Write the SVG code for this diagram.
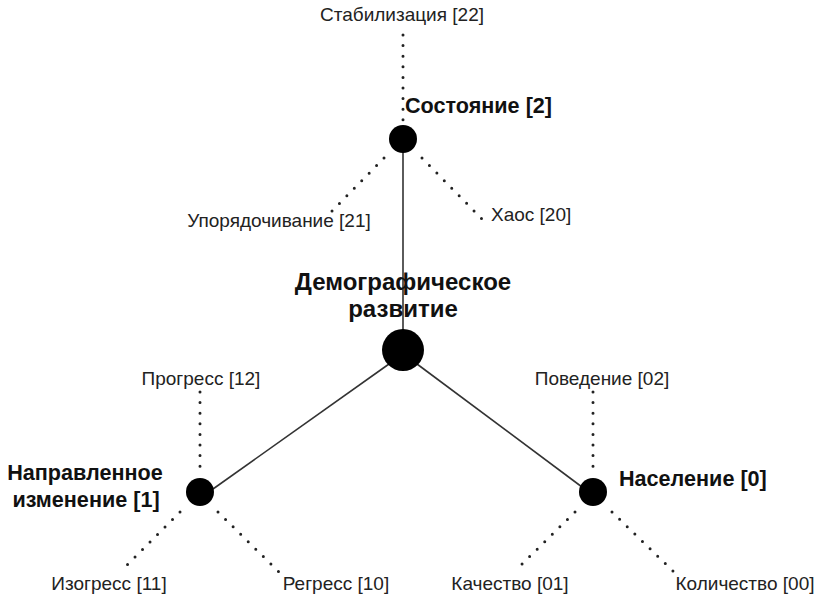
<svg xmlns="http://www.w3.org/2000/svg" width="820" height="607" viewBox="0 0 820 607">
<style>
.bg{fill:#fff}
.solid{stroke:#333;stroke-width:1.6;fill:none}
.dot{stroke:#222;stroke-width:3;stroke-linecap:round;stroke-dasharray:0 10.6;fill:none}
.node{fill:#000}
.lbl{font-family:"Liberation Sans",Arial,sans-serif;font-size:19px;fill:#222}
.b{font-family:"Liberation Sans",Arial,sans-serif;font-weight:bold;font-size:21.6px;fill:#111}
.bm{font-family:"Liberation Sans",Arial,sans-serif;font-weight:bold;font-size:24px;fill:#111}
</style>
<rect class="bg" x="0" y="0" width="820" height="607"/>
<g id="connectors">
<line class="solid" x1="403" y1="150" x2="403" y2="332"/>
<line class="solid" x1="389" y1="364" x2="213" y2="489"/>
<line class="solid" x1="417" y1="364" x2="582" y2="487"/>
<line class="dot" x1="403" y1="35" x2="403" y2="120"/>
<line class="dot" x1="384" y1="158" x2="330" y2="213"/>
<line class="dot" x1="422" y1="158" x2="483" y2="220"/>
<line class="dot" x1="200" y1="392" x2="200" y2="470"/>
<line class="dot" x1="180" y1="512" x2="126" y2="566"/>
<line class="dot" x1="218" y1="512" x2="280" y2="573"/>
<line class="dot" x1="593" y1="392" x2="593" y2="470"/>
<line class="dot" x1="575" y1="512" x2="520" y2="566"/>
<line class="dot" x1="612" y1="512" x2="675" y2="573"/>
</g>
<g id="n-main">
<circle class="node" cx="403" cy="350" r="21"/>
<text class="bm" x="403" y="290" text-anchor="middle">Демографическое</text>
<text class="bm" x="403" y="317" text-anchor="middle">развитие</text>
</g>
<g id="n-state">
<circle class="node" cx="403" cy="139" r="14"/>
<text class="b" x="405" y="113">Состояние [2]</text>
</g>
<g id="n-dir">
<circle class="node" cx="200" cy="492" r="14"/>
<text class="b" x="85" y="480" text-anchor="middle">Направленное</text>
<text class="b" x="86" y="507" text-anchor="middle">изменение [1]</text>
</g>
<g id="n-pop">
<circle class="node" cx="593" cy="492" r="14"/>
<text class="b" x="619" y="486">Население [0]</text>
</g>
<g id="l22"><text class="lbl" x="402" y="21" text-anchor="middle">Стабилизация [22]</text></g>
<g id="l21"><text class="lbl" x="279" y="227" text-anchor="middle">Упорядочивание [21]</text></g>
<g id="l20"><text class="lbl" x="491" y="221">Хаос [20]</text></g>
<g id="l12"><text class="lbl" x="201" y="385" text-anchor="middle">Прогресс [12]</text></g>
<g id="l11"><text class="lbl" x="109" y="590" text-anchor="middle">Изогресс [11]</text></g>
<g id="l10"><text class="lbl" x="336" y="590" text-anchor="middle">Регресс [10]</text></g>
<g id="l02"><text class="lbl" x="602" y="385" text-anchor="middle">Поведение [02]</text></g>
<g id="l01"><text class="lbl" x="510" y="590" text-anchor="middle">Качество [01]</text></g>
<g id="l00"><text class="lbl" x="745" y="590" text-anchor="middle">Количество [00]</text></g>
</svg>
